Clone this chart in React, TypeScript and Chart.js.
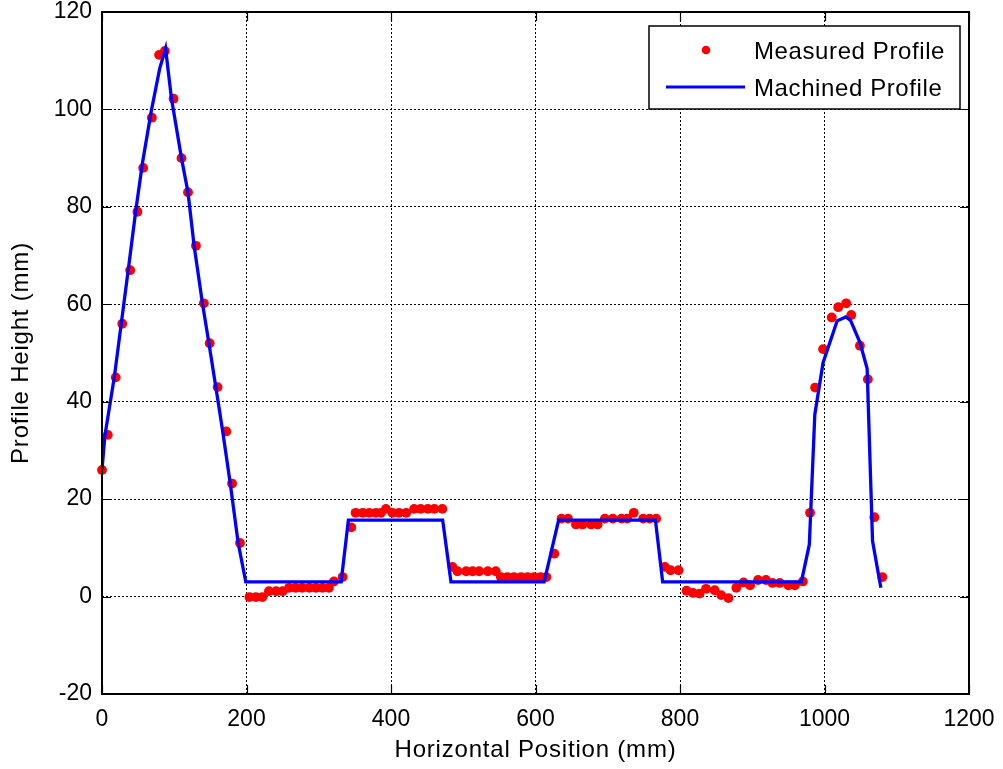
import React, { useEffect, useRef } from 'react';
import { Chart, registerables } from 'chart.js';

Chart.register(...registerables);

const xMin = 0;
const xMax = 1200;
const xStep = 200;
const yMin = -20;
const yMax = 120;
const yStep = 20;

const xTitle = 'Horizontal Position (mm)';
const yTitle = 'Profile Height (mm)';
const legendLabels = ['Measured Profile', 'Machined Profile'];

const measuredX = [
  0, 8, 19, 28, 39, 49, 57, 69, 79, 87, 99, 110, 119, 130, 141, 149, 160, 172, 180, 191,
  204, 213, 222, 231, 241, 250, 259, 268, 277, 287, 296, 305, 314, 321, 333, 345,
  351, 361, 370, 379, 386, 393, 402, 411, 421, 432, 441, 451, 460, 471,
  485, 492, 504, 513, 522, 534, 545, 552, 561, 570, 580, 589, 598, 607, 615,
  626, 636, 645, 656, 665, 677, 686, 696, 707, 719, 727, 736, 749, 758, 767,
  779, 787, 798, 809, 818, 827, 836, 848, 857, 867, 878, 888, 897, 908, 919, 928, 938, 950, 959, 970,
  980, 987, 998, 1010, 1019, 1030, 1037, 1049, 1060, 1069, 1080,
];
const measuredY = [
  26, 33.2, 45, 56, 67, 79, 88, 98.3, 111.2, 112, 102.2, 90, 83, 72, 60.2, 52, 43, 33.9, 23.2, 11,
  -0.1, -0.1, -0.1, 1.1, 1.1, 1.1, 1.8, 1.8, 1.8, 1.8, 1.8, 1.8, 1.8, 3.1, 4, 14.2,
  17.2, 17.2, 17.2, 17.2, 17.2, 18, 17.2, 17.2, 17.2, 18, 18, 18, 18, 18,
  6.1, 5.2, 5.2, 5.2, 5.2, 5.2, 5.2, 4, 4, 4, 4, 4, 4, 4, 4,
  8.8, 16, 16, 14.8, 14.8, 14.8, 14.8, 16, 16, 16, 16, 17.2, 16, 16, 16,
  6.1, 5.4, 5.4, 1.2, 0.75, 0.6, 1.6, 1.3, 0.3, -0.3, 1.8, 2.9, 2.3, 3.4, 3.4, 2.8, 2.8, 2.3, 2.3, 3.1,
  17.2, 42.9, 50.8, 57.3, 59.4, 60.2, 57.8, 51.5, 44.6, 16.3, 4,
];

const machinedX = [
  0, 4, 17, 38, 47, 56, 68, 80, 88, 96, 110, 119, 127.5, 139, 148, 157.5, 167, 177.5, 188.5, 199,
  331, 341, 471.5, 483, 612, 632, 766, 776, 968, 979, 986.6, 998, 1017.5, 1029.5, 1036, 1049, 1059, 1066.5, 1078,
];
const machinedY = [
  26, 33, 45, 69, 79.5, 89, 99.5, 108.5, 112.5, 102.4, 90, 83, 72, 60.2, 52, 43, 34, 23.2, 11, 3,
  3, 15.7, 15.7, 3, 3, 15.7, 15.7, 3, 3, 10.7, 37.4, 48, 56.6, 57.4, 56.7, 52.2, 46.8, 11.4, 1.8,
];

const FONT = "'Liberation Sans', Arial, Helvetica, sans-serif";

const framePlugin = {
  id: 'matlabFrame',
  beforeDraw(chart: any) {
    const ctx = chart.ctx as any;
    ctx.letterSpacing = '0.8px';
  },
  afterDatasetsDraw(chart: any) {
    const ctx = chart.ctx as any;
    ctx.letterSpacing = '0px';
  },
  afterDraw(chart: any) {
    const ctx = chart.ctx as any;
    const { left, right, top, bottom } = chart.chartArea;
    const xs = chart.scales.x;
    const ys = chart.scales.y;
    ctx.save();
    ctx.setLineDash([]);
    ctx.strokeStyle = '#000';
    ctx.lineWidth = 1.2;
    const tl = 9;
    ctx.beginPath();
    xs.ticks.forEach((t: any) => {
      const px = Math.round(xs.getPixelForValue(t.value)) + 0.5;
      ctx.moveTo(px, bottom);
      ctx.lineTo(px, bottom - tl);
      ctx.moveTo(px, top);
      ctx.lineTo(px, top + tl);
    });
    ys.ticks.forEach((t: any) => {
      const py = Math.round(ys.getPixelForValue(t.value)) + 0.5;
      ctx.moveTo(left, py);
      ctx.lineTo(left + tl, py);
      ctx.moveTo(right, py);
      ctx.lineTo(right - tl, py);
    });
    ctx.stroke();
    ctx.lineWidth = 2;
    ctx.strokeRect(left, top, right - left, bottom - top);

    // legend box
    const bx = 649, by = 26, bw = 311, bh = 83;
    ctx.fillStyle = '#fff';
    ctx.fillRect(bx, by, bw, bh);
    ctx.lineWidth = 1.5;
    ctx.strokeRect(bx, by, bw, bh);
    ctx.fillStyle = '#ff0000';
    ctx.beginPath();
    ctx.arc(706, 50, 4.3, 0, Math.PI * 2);
    ctx.fill();
    ctx.strokeStyle = '#0000ff';
    ctx.lineWidth = 3;
    ctx.beginPath();
    ctx.moveTo(666, 87);
    ctx.lineTo(745, 87);
    ctx.stroke();
    ctx.fillStyle = '#000';
    ctx.font = `24px ${FONT}`;
    ctx.letterSpacing = '0.6px';
    ctx.textAlign = 'left';
    ctx.textBaseline = 'middle';
    ctx.fillText(legendLabels[0], 754, 52);
    ctx.fillText(legendLabels[1], 754, 89);
    ctx.letterSpacing = '0px';
    ctx.restore();
  },
};

export default function App() {
  const ref = useRef<HTMLCanvasElement | null>(null);

  useEffect(() => {
    if (!ref.current) return;
    const measured = measuredX.map((x, i) => ({ x, y: measuredY[i] }));
    const machined = machinedX.map((x, i) => ({ x, y: machinedY[i] }));
    const chart = new Chart(ref.current, {
      type: 'scatter',
      data: {
        datasets: [
          {
            label: legendLabels[0],
            data: measured,
            pointRadius: 4.9,
            pointHoverRadius: 4.9,
            pointBackgroundColor: '#ff0000',
            pointBorderWidth: 0,
            showLine: false,
            order: 2,
            clip: false as any,
          },
          {
            label: legendLabels[1],
            data: machined,
            showLine: true,
            borderColor: '#0000ff',
            borderWidth: 3.3,
            pointRadius: 0,
            tension: 0,
            order: 1,
          },
        ],
      },
      options: {
        animation: false,
        responsive: true,
        maintainAspectRatio: false,
        layout: { padding: { left: 0, right: 34, top: 12, bottom: 0 } },
        plugins: {
          legend: { display: false },
          tooltip: { enabled: false },
        },
        scales: {
          x: {
            type: 'linear',
            min: xMin,
            max: xMax,
            afterFit: (s: any) => {
              s.height = 75;
              s.paddingLeft = 0;
              s.paddingRight = 0;
            },
            ticks: {
              stepSize: xStep,
              maxRotation: 0,
              autoSkip: false,
              padding: 12,
              color: '#000',
              font: { family: FONT, size: 23 },
              z: 1,
              callback: (v: any) => String(v),
            },
            grid: { color: '#000', lineWidth: 1, drawTicks: false },
            border: { display: false, dash: [2, 2] },
            title: {
              display: true,
              text: xTitle,
              color: '#000',
              font: { family: FONT, size: 24 },
              padding: { top: 0, bottom: 4 },
            },
          },
          y: {
            type: 'linear',
            min: yMin,
            max: yMax,
            afterFit: (s: any) => {
              s.width = 102;
              s.paddingTop = 0;
              s.paddingBottom = 0;
            },
            ticks: {
              stepSize: yStep,
              padding: 10,
              color: '#000',
              font: { family: FONT, size: 23 },
              z: 1,
              callback: (v: any) => String(v),
            },
            grid: { color: '#000', lineWidth: 1, drawTicks: false },
            border: { display: false, dash: [2, 2] },
            title: {
              display: true,
              text: yTitle,
              color: '#000',
              font: { family: FONT, size: 24 },
              padding: { top: 7, bottom: 0 },
            },
          },
        },
      },
      plugins: [framePlugin],
    });
    return () => chart.destroy();
  }, []);

  return (
    <div style={{ position: 'absolute', left: 0, top: 0, width: 1003, height: 769, background: '#fff' }}>
      <canvas ref={ref} />
    </div>
  );
}
